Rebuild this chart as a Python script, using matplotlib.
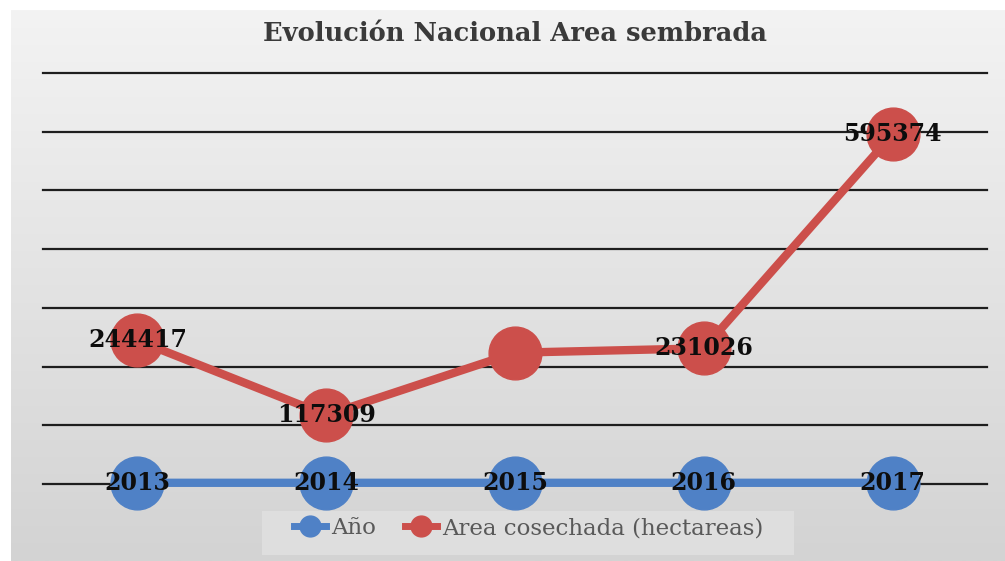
import numpy as np
import matplotlib.pyplot as plt
from matplotlib.colors import LinearSegmentedColormap
from matplotlib.lines import Line2D
from matplotlib.patches import Rectangle

# Datos
anios = ['2013', '2014', '2015', '2016', '2017']
serie_anio = [2013, 2014, 2015, 2016, 2017]
area_cosechada = [244417, 117309, 223600, 231026, 595374]
mostrar_etiqueta = [True, True, False, True, True]

azul = '#4f81c6'
rojo = '#cc4f4b'

fig = plt.figure(figsize=(10.05, 5.61), dpi=100)
fig.patch.set_facecolor('white')

# Fondo con degradado gris
bg = fig.add_axes([0.011, 0, 0.989, 0.982], zorder=-10)
grad = np.linspace(0, 1, 256).reshape(-1, 1)
bg.imshow(grad, aspect='auto', extent=[0, 1, 0, 1],
          cmap=LinearSegmentedColormap.from_list('g', ['#f3f3f3', '#d3d3d3']))
bg.axis('off')
bg.add_patch(Rectangle((0.252, 0.01), 0.536, 0.08, transform=bg.transAxes,
                       facecolor='#dedede', edgecolor='none'))

ax = fig.add_axes([0.0428, 0.1373, 0.9393, 0.7326])
ax.patch.set_alpha(0)
x = np.arange(len(anios))

ax.set_xlim(-0.5, len(anios) - 0.5)
ax.set_ylim(0, 700000)
ax.set_yticks(np.arange(0, 700001, 100000))
ax.grid(axis='y', color='#1e1e1e', linewidth=1.6)
for gl in ax.get_ygridlines():
    gl.set_clip_on(False)
ax.set_axisbelow(True)
ax.tick_params(left=False, bottom=False, labelleft=False, labelbottom=False)
for s in ax.spines.values():
    s.set_visible(False)

ax.plot(x, serie_anio, color=azul, linewidth=6, marker='o', markersize=38,
        clip_on=False, zorder=3)
ax.plot(x, area_cosechada, color=rojo, linewidth=6, marker='o', markersize=38,
        clip_on=False, zorder=4)

# Etiquetas de datos
fuente = dict(family='DejaVu Serif', fontweight='bold', fontsize=17, color='#0d0d0d')
for xi, v in zip(x, serie_anio):
    ax.text(xi, v, str(v), ha='center', va='center', zorder=6, **fuente)
for xi, v, m in zip(x, area_cosechada, mostrar_etiqueta):
    if m:
        ax.text(xi, v, str(v), ha='center', va='center', zorder=6, **fuente)

ax.set_title('Evolución Nacional Area sembrada', family='DejaVu Serif',
             fontweight='bold', fontsize=18.5, color='#3a3a3a', pad=23)

handles = [Line2D([0], [0], color=azul, linewidth=5, marker='o', markersize=15),
           Line2D([0], [0], color=rojo, linewidth=5, marker='o', markersize=15)]
fig.legend(handles, ['Año', 'Area cosechada (hectareas)'], loc='center',
           bbox_to_anchor=(0.526, 0.058), ncol=2, frameon=False,
           prop=dict(family='DejaVu Serif', size=16.5), labelcolor='#595959',
           handlelength=1.4, handletextpad=0.2, columnspacing=1.3)

fig.savefig('out.png', dpi=100)
